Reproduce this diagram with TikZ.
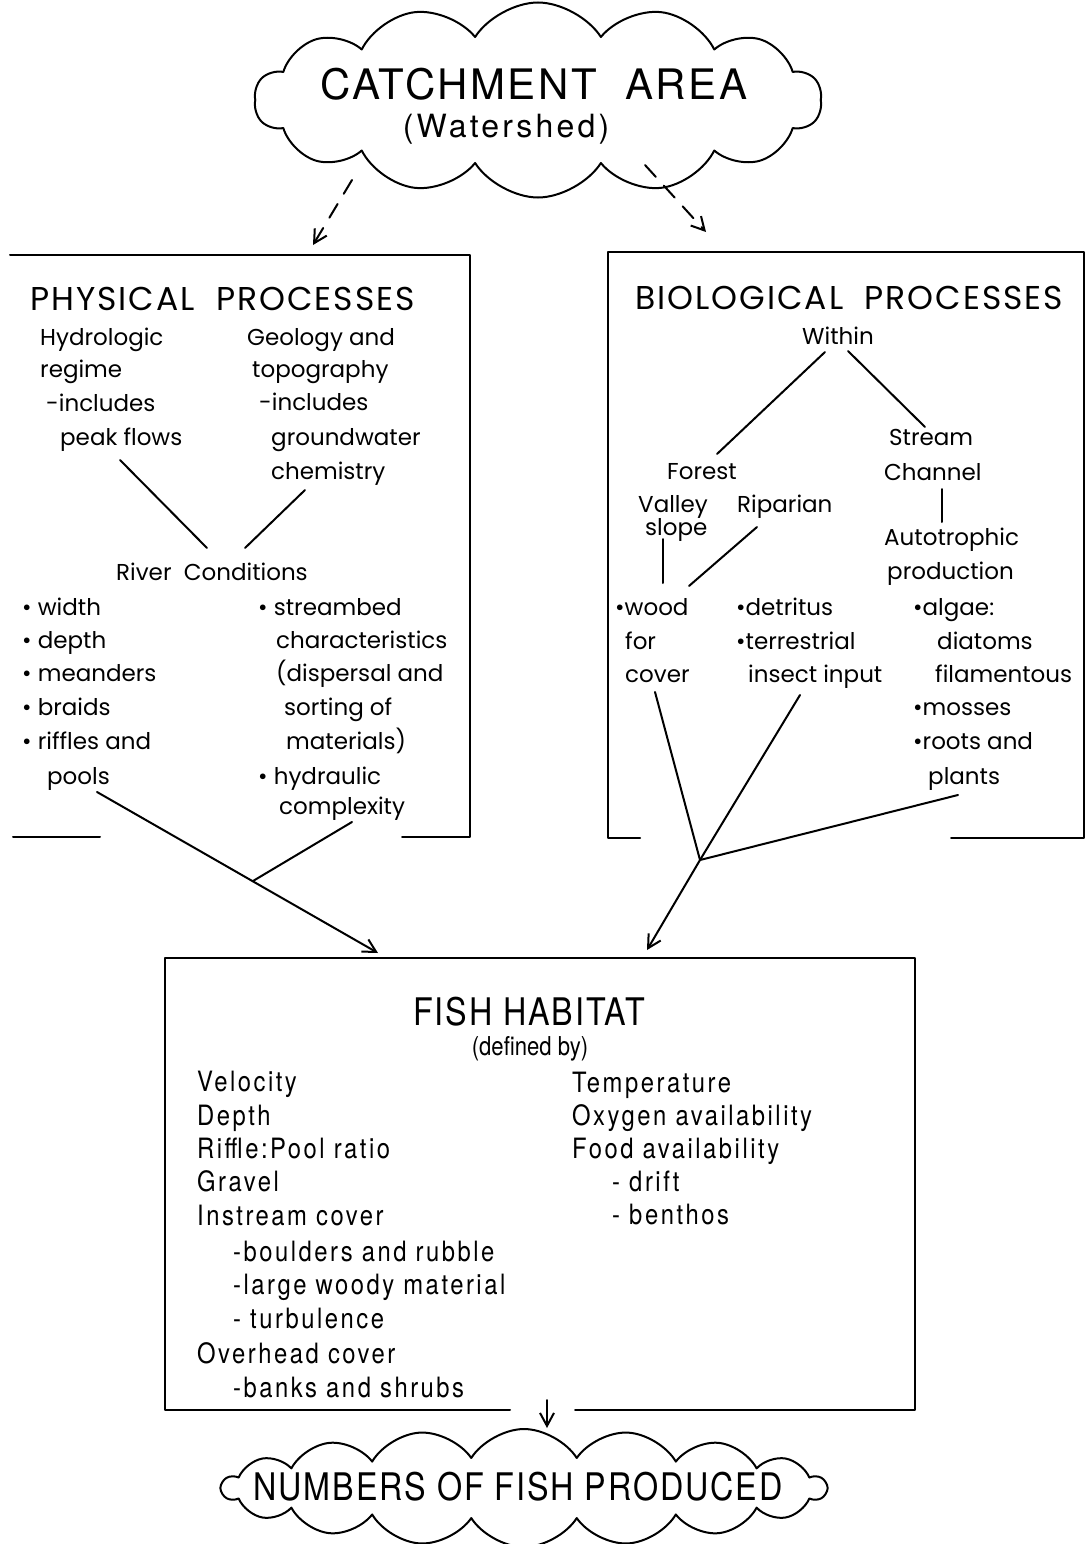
\documentclass[tikz,border=0pt]{standalone}
\usepackage{fontspec}
\usetikzlibrary{shapes.symbols,arrows.meta}
\newfontfamily\gfont{Poppins}
\newfontfamily\ghfont[LetterSpace=6]{Poppins}
\newfontfamily\cfont[FakeStretch=0.85]{TeX Gyre Heros}
\newfontfamily\cfontw[FakeStretch=0.85,LetterSpace=9]{TeX Gyre Heros}
\newfontfamily\cfontt[FakeStretch=0.85,LetterSpace=5]{TeX Gyre Heros}
\newfontfamily\hfont[LetterSpace=6]{TeX Gyre Heros}
\newfontfamily\hfontw[LetterSpace=10]{TeX Gyre Heros}
\begin{document}
\begin{tikzpicture}[x=1pt,y=-1pt,
  ln/.style={line width=2pt, line cap=round, line join=round},
  arr/.style={ln, -{Straight Barb[length=13pt,width=14pt,line width=2pt]}},
  gt/.style={font=\gfont\fontsize{23}{23}\selectfont, anchor=base west, inner sep=0pt},
  gh/.style={font=\ghfont\fontsize{33}{33}\selectfont, anchor=base west, inner sep=0pt},
  ft/.style={font=\cfontw\fontsize{28}{28}\selectfont, anchor=base west, inner sep=0pt},
  cl/.style={cloud, draw, ln, cloud puff arc=115},
]
\useasboundingbox[fill=white] (0,0) rectangle (1091,1544);

% ---------- clouds ----------
\node[cl, cloud puffs=14, aspect=2.9, minimum width=567pt, minimum height=195pt] (catch) at (538,100) {};
\node[font=\hfont\fontsize{42}{42}\selectfont, anchor=base, inner sep=0pt] (catcht) at (534,100) {CATCHMENT\ \ AREA};
\node[font=\hfontw\fontsize{32}{32}\selectfont, anchor=base, inner sep=0pt] (wsh) at (506,138) {(Watershed)};

\node[cl, cloud puffs=18, aspect=5.2, minimum width=604pt, minimum height=118pt] (nfish) at (524,1488) {};
\node[font=\cfontt\fontsize{38}{38}\selectfont, anchor=base, inner sep=0pt] (nfisht) at (518,1500) {NUMBERS OF FISH PRODUCED};

% ---------- boxes ----------
\draw[ln] (13,837) -- (100,837);
\draw[ln] (10,255) -- (470,255) -- (470,837) -- (402,837);
\draw[ln] (640,838) -- (608,838) -- (608,252) -- (1084,252) -- (1084,838) -- (951,838);
\draw[ln] (510,1410) -- (165,1410) -- (165,958) -- (915,958) -- (915,1410) -- (575,1410);

% ---------- physical processes ----------
\node[gh] (ph) at (30,310) {PHYSICAL\ \ PROCESSES};
\node[gt] (hyd1) at (40,345) {Hydrologic};
\node[gt] (hyd2) at (40,377) {regime};
\node[gt] (hyd3) at (46,411) {-includes};
\node[gt] (hyd4) at (60,445) {peak flows};
\node[gt] (geo1) at (247,345) {Geology and};
\node[gt] (geo2) at (252,377) {topography};
\node[gt] (geo3) at (259,410) {-includes};
\node[gt] (geo4) at (271,445) {groundwater};
\node[gt] (geo5) at (271,479) {chemistry};
\node[gt] (rc) at (116,580) {River\ \ Conditions};
\node[gt] (b1) at (22,615) {• width};
\node[gt] (b2) at (22,648) {• depth};
\node[gt] (b3) at (22,681) {• meanders};
\node[gt] (b4) at (22,715) {• braids};
\node[gt] (b5) at (22,749) {• riffles and};
\node[gt] (b6) at (47,784) {pools};
\node[gt] (s1) at (258,615) {• streambed};
\node[gt] (s2) at (276,648) {characteristics};
\node[gt] (s3) at (276,681) {(dispersal and};
\node[gt] (s4) at (284,715) {sorting of};
\node[gt] (s5) at (286,749) {materials)};
\node[gt] (s6) at (258,784) {• hydraulic};
\node[gt] (s7) at (279,814) {complexity};

% ---------- biological processes ----------
\node[gh] (bp) at (635,309) {BIOLOGICAL\ \ PROCESSES};
\node[gt, anchor=base] (within) at (838,344) {Within};
\node[gt] (forest) at (667,479) {Forest};
\node[gt] (stream) at (889,445) {Stream};
\node[gt] (channel) at (884,480) {Channel};
\node[gt] (valley) at (638,512) {Valley};
\node[gt] (slope) at (645,535) {slope};
\node[gt] (ripar) at (737,512) {Riparian};
\node[gt] (auto) at (884,545) {Autotrophic};
\node[gt] (prod) at (887,579) {production};
\node[gt] (w1) at (615,615) {•wood};
\node[gt] (w2) at (625,649) {for};
\node[gt] (w3) at (625,682) {cover};
\node[gt] (d1) at (736,615) {•detritus};
\node[gt] (d2) at (736,649) {•terrestrial};
\node[gt] (d3) at (748,682) {insect input};
\node[gt] (a1) at (913,615) {•algae:};
\node[gt] (a2) at (937,649) {diatoms};
\node[gt] (a3) at (935,682) {filamentous};
\node[gt] (a4) at (913,715) {•mosses};
\node[gt] (a5) at (913,749) {•roots and};
\node[gt] (a6) at (928,784) {plants};

% ---------- fish habitat ----------
\node[font=\cfontt\fontsize{38}{38}\selectfont, anchor=base, inner sep=0pt] (fh) at (529,1025) {FISH\ HABITAT};
\node[font=\cfont\fontsize{26}{26}\selectfont, anchor=base, inner sep=0pt] (defby) at (530,1055) {(defined by)};
\node[ft] (f1) at (197,1091) {Velocity};
\node[ft] (f2) at (197,1125) {Depth};
\node[ft] (f3) at (197,1158) {Riffle:Pool ratio};
\node[ft] (f4) at (197,1191) {Gravel};
\node[ft] (f5) at (197,1225) {Instream cover};
\node[ft] (f6) at (233,1261) {-boulders and rubble};
\node[ft] (f7) at (233,1294) {-large woody material};
\node[ft] (f8) at (233,1328) {- turbulence};
\node[ft] (f9) at (197,1363) {Overhead cover};
\node[ft] (f10) at (233,1397) {-banks and shrubs};
\node[ft] (g1) at (572,1092) {Temperature};
\node[ft] (g2) at (572,1125) {Oxygen availability};
\node[ft] (g3) at (572,1158) {Food availability};
\node[ft] (g4) at (612,1191) {- drift};
\node[ft] (g5) at (612,1224) {- benthos};

% ---------- connector coordinates ----------
\coordinate (cL) at (352,180);  \coordinate (pT) at (313,245);
\coordinate (cR) at (645,165);  \coordinate (bT) at (706,232);
\coordinate (p1) at (120,460);  \coordinate (p2) at (207,548);
\coordinate (p3) at (305,490);  \coordinate (p4) at (245,548);
\coordinate (p5) at (97,792);   \coordinate (pJ) at (253,881);
\coordinate (p6) at (352,822);  \coordinate (fT1) at (378,953);
\coordinate (q1) at (825,352);  \coordinate (q2) at (717,454);
\coordinate (q3) at (848,351);  \coordinate (q4) at (925,427);
\coordinate (q5) at (942,489);  \coordinate (q6) at (942,522);
\coordinate (q7) at (663,539);  \coordinate (q8) at (663,583);
\coordinate (q9) at (757,527);  \coordinate (q10) at (689,586);
\coordinate (r1) at (655,692);  \coordinate (r2) at (800,695);
\coordinate (r3) at (958,795);  \coordinate (rJ) at (700,860);
\coordinate (fT2) at (647,950);
\coordinate (fB) at (547,1400); \coordinate (nT) at (547,1428);

% ---------- connectors ----------
\draw[arr, dash pattern=on 16pt off 12pt] (cL) -- (pT);
\draw[arr, dash pattern=on 16pt off 12pt] (cR) -- (bT);
\draw[ln] (p1) -- (p2);
\draw[ln] (p3) -- (p4);
\draw[arr] (p5) -- (fT1);
\draw[ln] (p6) -- (pJ);
\draw[ln] (q1) -- (q2);
\draw[ln] (q3) -- (q4);
\draw[ln] (q5) -- (q6);
\draw[ln] (q7) -- (q8);
\draw[ln] (q9) -- (q10);
\draw[ln] (r1) -- (rJ);
\draw[ln] (r2) -- (rJ);
\draw[ln] (r3) -- (rJ);
\draw[arr] (rJ) -- (fT2);
\draw[arr] (fB) -- (nT);
\end{tikzpicture}
\end{document}
